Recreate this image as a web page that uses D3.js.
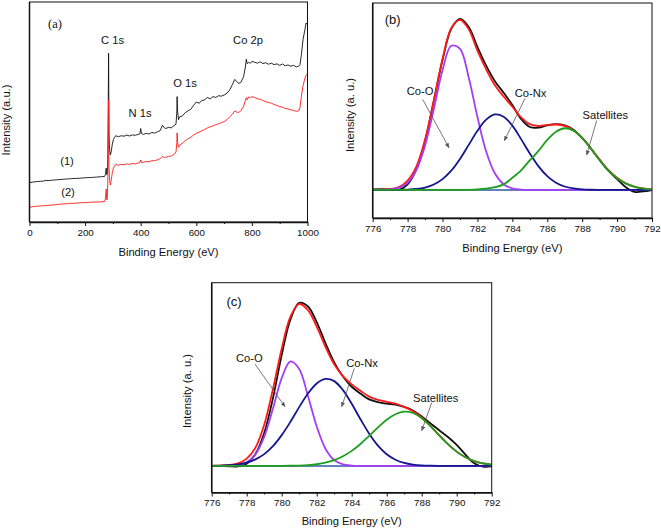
<!DOCTYPE html>
<html><head><meta charset="utf-8">
<script src="https://cdn.jsdelivr.net/npm/d3@7"></script>
<style>body{margin:0;background:#fff}svg{display:block}</style>
</head><body><svg id="chart" width="661" height="528"></svg>
<script>
// ---------- DATA ----------
// Panel (a): survey spectra, [binding energy (eV), intensity (a.u.)]
const survey1 = [[0,0.179],[10,0.181],[20,0.183],[30,0.184],[40,0.185],[50,0.186],[60,0.189],[70,0.188],[80,0.190],[90,0.191],[100,0.192],[110,0.193],[120,0.194],[130,0.195],[140,0.196],[150,0.197],[160,0.198],[170,0.198],[180,0.199],[190,0.200],[200,0.201],[210,0.202],[220,0.202],[230,0.203],[240,0.204],[250,0.205],[260,0.206],[270,0.207],[273,0.215],[276,0.245],[278,0.215],[280,0.220],[282,0.300],[284.5,0.767],[286,0.400],[288,0.330],[291,0.305],[294,0.320],[298,0.355],[302,0.375],[306,0.385],[310,0.392],[320,0.388],[330,0.392],[340,0.390],[350,0.395],[360,0.391],[370,0.396],[380,0.394],[390,0.398],[397,0.400],[400,0.425],[403,0.402],[410,0.398],[420,0.403],[430,0.400],[440,0.407],[450,0.404],[460,0.410],[470,0.415],[478,0.440],[485,0.428],[490,0.425],[500,0.430],[510,0.428],[520,0.438],[527,0.445],[530,0.500],[531,0.570],[533,0.500],[536,0.465],[540,0.478],[550,0.482],[560,0.497],[570,0.505],[580,0.512],[590,0.530],[600,0.545],[610,0.540],[620,0.552],[630,0.555],[640,0.566],[650,0.560],[660,0.570],[670,0.566],[680,0.574],[690,0.572],[700,0.577],[710,0.585],[720,0.600],[730,0.625],[738,0.648],[745,0.640],[752,0.630],[760,0.634],[770,0.660],[776,0.700],[780,0.740],[783,0.720],[788,0.725],[795,0.722],[800,0.730],[810,0.726],[820,0.722],[830,0.728],[840,0.720],[850,0.724],[860,0.717],[870,0.722],[880,0.715],[890,0.719],[900,0.712],[910,0.718],[920,0.710],[930,0.714],[940,0.708],[950,0.712],[960,0.705],[968,0.708],[973,0.715],[978,0.760],[984,0.830],[990,0.870],[995,0.905],[997,0.900]];
const survey2 = [[0,0.067],[10,0.069],[20,0.071],[30,0.072],[40,0.073],[50,0.074],[60,0.075],[70,0.076],[80,0.077],[90,0.078],[100,0.080],[110,0.081],[120,0.082],[130,0.083],[140,0.084],[150,0.085],[160,0.085],[170,0.086],[180,0.087],[190,0.088],[200,0.088],[210,0.089],[220,0.090],[230,0.090],[240,0.091],[250,0.091],[260,0.092],[270,0.093],[273,0.105],[276,0.150],[278,0.100],[280,0.110],[282,0.200],[284.5,0.555],[286,0.250],[288,0.190],[291,0.168],[294,0.190],[298,0.225],[302,0.245],[306,0.255],[310,0.262],[320,0.258],[330,0.262],[340,0.260],[350,0.264],[360,0.262],[370,0.266],[380,0.264],[390,0.268],[397,0.270],[400,0.282],[403,0.270],[410,0.272],[420,0.275],[430,0.274],[440,0.279],[450,0.278],[460,0.283],[470,0.288],[478,0.298],[485,0.292],[490,0.294],[500,0.298],[510,0.300],[520,0.308],[527,0.318],[530,0.360],[531,0.405],[533,0.360],[536,0.340],[540,0.350],[550,0.358],[560,0.370],[570,0.378],[580,0.385],[590,0.395],[600,0.403],[610,0.408],[620,0.415],[630,0.420],[640,0.428],[650,0.433],[660,0.437],[670,0.443],[680,0.446],[690,0.452],[700,0.456],[710,0.465],[720,0.478],[730,0.490],[738,0.505],[745,0.500],[752,0.498],[760,0.505],[770,0.525],[776,0.550],[780,0.565],[783,0.555],[788,0.568],[795,0.565],[800,0.570],[810,0.566],[820,0.560],[830,0.558],[840,0.552],[850,0.547],[860,0.543],[870,0.540],[880,0.534],[890,0.530],[900,0.524],[910,0.522],[920,0.516],[930,0.514],[940,0.510],[950,0.507],[960,0.503],[968,0.505],[973,0.520],[978,0.570],[984,0.620],[990,0.650],[995,0.668],[998,0.672]];
const surveyTicks = [0,200,400,600,800,1000];
const surveyMinor = [100,300,500,700,900];

// Panels (b) and (c): Co 2p high-resolution fits
const fitEnergy = [776,776.5,777,777.5,778,778.5,779,779.5,780,780.5,781,781.5,782,782.5,783,783.5,784,784.5,785,785.5,786,786.5,787,787.5,788,788.5,789,789.5,790,790.5,791,791.5,792];
const fitTicks = [776,778,780,782,784,786,788,790,792];
const fitMinor = [777,779,781,783,785,787,789,791];

const bMeasured  = [0.003,0.004,0.003,0.000,0.030,0.110,0.262,0.475,0.695,0.862,0.915,0.872,0.765,0.665,0.582,0.520,0.455,0.380,0.337,0.333,0.345,0.352,0.345,0.322,0.278,0.222,0.160,0.103,0.058,0.015,-0.010,-0.008,0.000];
const bEnvelope  = [0.001,0.002,0.005,0.015,0.050,0.125,0.270,0.480,0.700,0.865,0.910,0.860,0.745,0.645,0.560,0.500,0.445,0.388,0.352,0.342,0.348,0.350,0.343,0.320,0.278,0.222,0.162,0.107,0.065,0.036,0.018,0.008,0.003];
const bCoO       = [0.0001,0.0005,0.0027,0.0114,0.0386,0.106,0.2376,0.432,0.640,0.771,0.755,0.602,0.390,0.2056,0.088,0.0307,0.0087,0.002,0.0004,0.0001,0,0,0,0,0,0,0,0,0,0,0,0,0];
const bCoNx      = [0,0,0.0002,0.0007,0.002,0.0055,0.013,0.029,0.058,0.103,0.166,0.241,0.317,0.376,0.404,0.392,0.344,0.272,0.195,0.126,0.074,0.039,0.0185,0.008,0.003,0.001,0.0004,0,0,0,0,0,0];
const bSatellite = [0,0,0,0,0,0,0,0,0,0,0.0003,0.0009,0.0026,0.0064,0.0145,0.030,0.065,0.105,0.158,0.209,0.2675,0.3115,0.330,0.3175,0.278,0.221,0.160,0.105,0.063,0.034,0.017,0.0076,0.003];

const cMeasured  = [0.000,0.000,-0.002,-0.002,0.012,0.065,0.180,0.370,0.605,0.800,0.890,0.870,0.785,0.670,0.565,0.488,0.432,0.395,0.363,0.348,0.340,0.335,0.322,0.302,0.270,0.232,0.195,0.158,0.115,0.062,0.015,-0.004,-0.003];
const cEnvelope  = [0.001,0.002,0.005,0.014,0.040,0.100,0.225,0.420,0.640,0.815,0.885,0.850,0.760,0.650,0.555,0.490,0.445,0.410,0.378,0.360,0.350,0.340,0.322,0.298,0.264,0.219,0.168,0.119,0.078,0.047,0.0265,0.0137,0.0066];
const cCoO       = [0,0.0001,0.0009,0.0047,0.0195,0.0632,0.159,0.313,0.479,0.570,0.529,0.382,0.215,0.094,0.032,0.0085,0.0018,0.0003,0,0,0,0,0,0,0,0,0,0,0,0,0,0,0];
const cCoNx      = [0.0006,0.0015,0.0038,0.0086,0.018,0.0356,0.0644,0.108,0.168,0.241,0.321,0.395,0.450,0.475,0.463,0.414,0.339,0.255,0.176,0.111,0.064,0.034,0.0167,0.0075,0.003,0.0012,0.0004,0,0,0,0,0,0];
const cSatellite = [0,0,0,0,0,0,0,0.0001,0.0004,0.0009,0.0021,0.0045,0.0092,0.0176,0.0315,0.0526,0.0822,0.120,0.164,0.210,0.252,0.282,0.296,0.289,0.260,0.217,0.167,0.119,0.078,0.047,0.0265,0.0137,0.0066];

const xTitle = "Binding Energy (eV)";

// ---------- DRAWING ----------
const svg = d3.select("#chart");
const SANS = "'Liberation Sans', Arial, sans-serif";
const SERIF = "'Liberation Serif', 'Times New Roman', serif";
const COL = {black:"#111111", red:"#ff1a1a", purple:"#a23ff5", navy:"#16168f", green:"#1e9e1e", base:"#2b5aa8", arrow:"#555555", text:"#111111"};

svg.append("defs").append("marker")
  .attr("id","arr").attr("viewBox","0 0 10 10").attr("refX",9).attr("refY",5)
  .attr("markerUnits","userSpaceOnUse").attr("markerWidth",5).attr("markerHeight",5)
  .attr("orient","auto")
  .append("path").attr("d","M0,1L10,5L0,9Z").attr("fill",COL.arrow);

function panel(cfg){
  const x = d3.scaleLinear().domain(cfg.xDomain).range([cfg.x0, cfg.x1]);
  const y = d3.scaleLinear().domain(cfg.yDomain).range([cfg.yBot, cfg.yTop]);
  const g = svg.append("g");
  const clipId = "clip" + cfg.id;
  g.append("clipPath").attr("id", clipId).append("rect")
    .attr("x", cfg.x0).attr("y", cfg.yTop).attr("width", cfg.x1 - cfg.x0).attr("height", cfg.yBot - cfg.yTop);
  const plot = g.append("g").attr("clip-path", `url(#${clipId})`);

  cfg.draw(plot, x, y);

  g.append("rect").attr("x", cfg.x0).attr("y", cfg.yTop)
    .attr("width", cfg.x1 - cfg.x0).attr("height", cfg.yBot - cfg.yTop)
    .attr("fill","none").attr("stroke","#111").attr("stroke-width",1);

  const ax = g.append("g").attr("transform", `translate(0,${cfg.yBot})`)
    .call(d3.axisBottom(x).tickValues(cfg.major).tickSize(4).tickSizeOuter(0).tickPadding(3).tickFormat(d3.format("d")));
  ax.select(".domain").attr("stroke","#111").attr("stroke-width",1.5);
  ax.selectAll(".tick line").attr("stroke","#111");
  ax.selectAll("text").attr("font-family", SANS).attr("font-size", 9.8).attr("fill", COL.text);
  const mi = g.append("g").attr("transform", `translate(0,${cfg.yBot})`)
    .call(d3.axisBottom(x).tickValues(cfg.minor).tickSize(2).tickSizeOuter(0).tickFormat(""));
  mi.select(".domain").remove();
  mi.selectAll(".tick line").attr("stroke","#111");

  g.append("line").attr("x1", cfg.x0).attr("x2", cfg.x0).attr("y1", cfg.yTop).attr("y2", cfg.yBot)
    .attr("stroke","#111").attr("stroke-width",1.5);

  g.append("text").attr("x", (cfg.x0 + cfg.x1)/2).attr("y", cfg.xTitleY)
    .attr("text-anchor","middle").attr("font-family", SANS).attr("font-size", 11.2).attr("fill", COL.text).text(xTitle);
  g.append("text").attr("transform", `translate(${cfg.yTitleX},${cfg.yTitleCY}) rotate(-90)`)
    .attr("text-anchor","middle").attr("font-family", SANS).attr("font-size", 11.2).attr("fill", COL.text).text(cfg.yTitle);

  cfg.labels.forEach(l => {
    g.append("text").attr("x", l.x).attr("y", l.y).attr("text-anchor","middle")
      .attr("font-family", l.serif ? SERIF : SANS).attr("font-size", l.size || 11.2).attr("fill", COL.text).text(l.t);
  });
  (cfg.arrows || []).forEach(a => {
    g.append("line").attr("x1", a[0]).attr("y1", a[1]).attr("x2", a[2]).attr("y2", a[3])
      .attr("stroke", COL.arrow).attr("stroke-width", 0.8).attr("marker-end","url(#arr)");
  });
}

function fitDraw(measured, envelope, coO, coNx, sat){
  return (plot, x, y) => {
    const line = d3.line().x(d => x(d[0])).y(d => y(d[1])).curve(d3.curveCatmullRom.alpha(0.5));
    const zip = arr => fitEnergy.map((e, i) => [e, arr[i]]);
    plot.append("line").attr("x1", x(776)).attr("x2", x(792)).attr("y1", y(0)).attr("y2", y(0))
      .attr("stroke", COL.base).attr("stroke-width", 1.6);
    [[measured, COL.black],[envelope, COL.red],[coO, COL.purple],[coNx, COL.navy],[sat, COL.green]].forEach(([arr, c]) => {
      plot.append("path").datum(zip(arr)).attr("d", line).attr("fill","none")
        .attr("stroke", c).attr("stroke-width", 1.8).attr("stroke-linejoin","round");
    });
  };
}

panel({
  id:"a", xDomain:[0,1000], yDomain:[0,1], x0:29.5, x1:307.5, yTop:2, yBot:222,
  major: surveyTicks, minor: surveyMinor, xTitleY:256, yTitleX:10, yTitleCY:120, yTitle:"Intensity (a.u.)",
  draw: (plot, x, y) => {
    const line = d3.line().x(d => x(d[0])).y(d => y(d[1]));
    plot.append("path").datum(survey1).attr("d", line).attr("fill","none").attr("stroke", COL.black).attr("stroke-width", 0.9);
    plot.append("path").datum(survey2).attr("d", line).attr("fill","none").attr("stroke", COL.red).attr("stroke-width", 0.9);
  },
  labels: [
    {t:"(a)", x:55, y:28, serif:true, size:12.5},
    {t:"C 1s", x:112.5, y:43.5},
    {t:"Co 2p", x:248, y:43.5},
    {t:"O 1s", x:185, y:86.5},
    {t:"N 1s", x:140, y:116.5},
    {t:"(1)", x:67, y:165},
    {t:"(2)", x:68, y:196}
  ]
});

panel({
  id:"b", xDomain:[776,792], yDomain:[-0.15,1], x0:372.7, x1:652, yTop:3, yBot:218,
  major: fitTicks, minor: fitMinor, xTitleY:252, yTitleX:353.5, yTitleCY:115, yTitle:"Intensity (a. u.)",
  draw: fitDraw(bMeasured, bEnvelope, bCoO, bCoNx, bSatellite),
  labels: [
    {t:"(b)", x:392.7, y:23.5, size:13},
    {t:"Co-O", x:420, y:95},
    {t:"Co-Nx", x:530.5, y:96.5},
    {t:"Satellites", x:605.3, y:119}
  ],
  arrows: [[422.7,99.5,449,147.7],[525,98.5,504.3,140.7],[596.7,120.5,586.7,155]]
});

panel({
  id:"c", xDomain:[776,792], yDomain:[-0.145,1], x0:211.7, x1:491.7, yTop:282.7, yBot:492.5,
  major: fitTicks, minor: fitMinor, xTitleY:524.5, yTitleX:191, yTitleCY:391, yTitle:"Intensity (a. u.)",
  draw: fitDraw(cMeasured, cEnvelope, cCoO, cCoNx, cSatellite),
  labels: [
    {t:"(c)", x:234, y:306, size:13},
    {t:"Co-O", x:249.3, y:361.7},
    {t:"Co-Nx", x:362, y:367},
    {t:"Satellites", x:435.7, y:401.7}
  ],
  arrows: [[255,364,285,406.7],[354.3,368.3,341.7,406.7],[431.7,402.7,421.7,430.7]]
});
</script>
</body></html>
